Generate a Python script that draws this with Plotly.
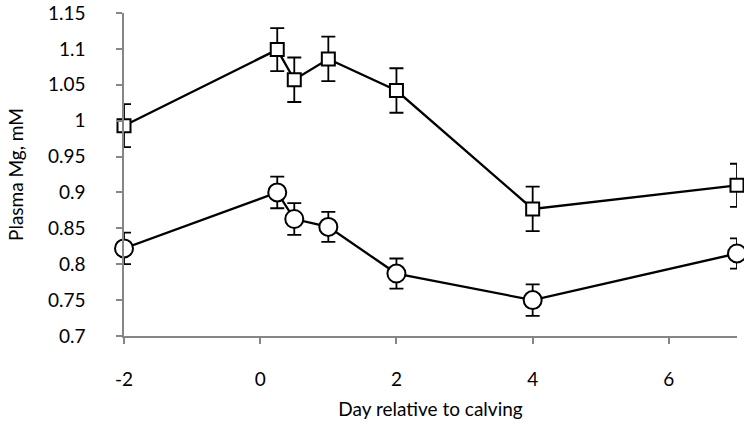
import plotly.graph_objects as go

days = [-2, 0.25, 0.5, 1, 2, 4, 7]
square_vals = [0.993, 1.099, 1.057, 1.086, 1.042, 0.877, 0.910]
square_err = [0.030, 0.030, 0.031, 0.031, 0.031, 0.031, 0.030]
circle_vals = [0.822, 0.900, 0.863, 0.852, 0.787, 0.750, 0.815]
circle_err = [0.022, 0.022, 0.022, 0.021, 0.021, 0.022, 0.021]

x_ticks = [-2, 0, 2, 4, 6]
x_ticktext = ["-2", "0", "2", "4", "6"]
y_ticks = [0.7, 0.75, 0.8, 0.85, 0.9, 0.95, 1.0, 1.05, 1.1, 1.15]
y_ticktext = ["0.7", "0.75", "0.8", "0.85", "0.9", "0.95", "1", "1.05", "1.1", "1.15"]

FONT = "Lato, 'Open Sans', sans-serif"
FSIZE = 19
AXIS_GREY = "#868686"

fig = go.Figure()

fig.add_trace(go.Scatter(
    x=days, y=square_vals, mode="lines+markers",
    line=dict(color="black", width=2.3),
    marker=dict(symbol="square", size=13, color="white",
                line=dict(color="black", width=2)),
    error_y=dict(type="data", array=square_err, visible=True,
                 color="black", thickness=1.8, width=7),
    cliponaxis=False, showlegend=False,
))

fig.add_trace(go.Scatter(
    x=days, y=circle_vals, mode="lines+markers",
    line=dict(color="black", width=2.3),
    marker=dict(symbol="circle", size=18, color="white",
                line=dict(color="black", width=2)),
    error_y=dict(type="data", array=circle_err, visible=True,
                 color="black", thickness=1.8, width=7),
    cliponaxis=False, showlegend=False,
))

fig.update_layout(
    width=744, height=427,
    margin=dict(l=124, r=7, t=13, b=91),
    paper_bgcolor="white", plot_bgcolor="white",
    font=dict(family=FONT, size=FSIZE, color="black"),
    xaxis=dict(
        range=[-2, 7], tickvals=x_ticks, ticktext=x_ticktext,
        automargin=False,
        showgrid=False, zeroline=False,
        showline=True, linecolor=AXIS_GREY, linewidth=1.5,
        ticks="outside", ticklen=6, tickcolor=AXIS_GREY, tickwidth=1.5,
        ticklabelstandoff=19, ticklabeloverflow="allow",
        title=dict(text="Day relative to calving", standoff=14,
                   font=dict(family=FONT, size=FSIZE, color="black")),
    ),
    yaxis=dict(
        range=[0.7, 1.15], tickvals=y_ticks, ticktext=y_ticktext,
        automargin=False,
        showgrid=False, zeroline=False,
        showline=True, linecolor=AXIS_GREY, linewidth=1.5,
        ticks="outside", ticklen=6, tickcolor=AXIS_GREY, tickwidth=1.5,
        ticklabelstandoff=27, ticklabeloverflow="allow",
        title=dict(text="Plasma Mg, mM", standoff=19,
                   font=dict(family=FONT, size=FSIZE, color="black")),
    ),
)

fig.write_html("out.html", config={"displayModeBar": False},
               post_script="document.body.style.margin='0';")
